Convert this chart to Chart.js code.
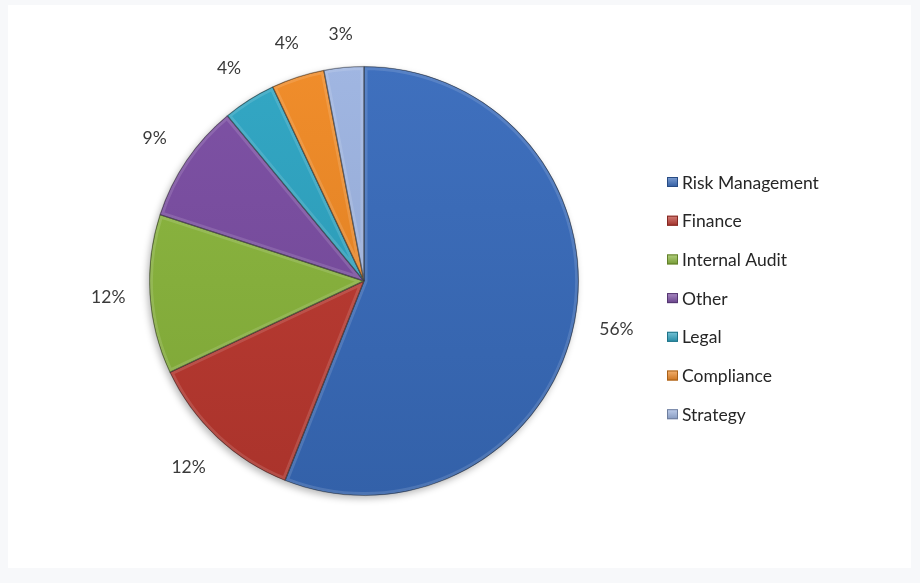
<!DOCTYPE html>
<html>
<head>
<meta charset="utf-8">
<title>Respondents by function</title>
<script src="https://cdn.jsdelivr.net/npm/chart.js@4.4.1/dist/chart.umd.min.js"></script>
<style>
    html, body { margin: 0; padding: 0; background: #f7f8fa; }
    .wrap { position: relative; width: 920px; height: 583px; }
    .panel { position: absolute; left: 8px; top: 5px; width: 903px; height: 563px; background: #ffffff; }
    #chart { position: absolute; left: 0; top: 0; }
</style>
</head>
<body>
<div class="wrap">
    <div class="panel"></div>
    <canvas id="chart" width="920" height="583"></canvas>
</div>
<script>
const categories = ['Risk Management', 'Finance', 'Internal Audit', 'Other', 'Legal', 'Compliance', 'Strategy'];
const shares = [56, 12, 12, 9, 4, 4, 3];
const sliceColors = ['#396cbc', '#bd3930', '#8ab63c', '#7a4da2', '#2da4c2', '#f08924', '#9db4e1'];

const FONT = 'Lato, "Open Sans", sans-serif';

// lighten (amt > 0) or darken (amt < 0) a hex colour
function shade(hex, amt) {
    const n = parseInt(hex.slice(1), 16);
    let r = (n >> 16) & 255, g = (n >> 8) & 255, b = n & 255;
    const f = c => Math.round(amt > 0 ? c + (255 - c) * amt : c * (1 + amt));
    return `rgb(${f(r)}, ${f(g)}, ${f(b)})`;
}

// soft shadow under the whole pie
const pieShadow = {
    id: 'pieShadow',
    beforeDatasetsDraw(chart) {
        const arc = chart.getDatasetMeta(0).data[0];
        if (!arc) return;
        const ctx = chart.ctx;
        ctx.save();
        ctx.shadowColor = 'rgba(0, 0, 0, 0.28)';
        ctx.shadowBlur = 7;
        ctx.shadowOffsetX = -2;
        ctx.shadowOffsetY = 3;
        ctx.fillStyle = '#ffffff';
        ctx.beginPath();
        ctx.arc(arc.x, arc.y, arc.outerRadius, 0, Math.PI * 2);
        ctx.fill();
        ctx.restore();
    }
};

// faint inner rim on each slice, like the old office bevel
const sliceBevel = {
    id: 'sliceBevel',
    afterDatasetsDraw(chart) {
        const ctx = chart.ctx;
        chart.getDatasetMeta(0).data.forEach(arc => {
            const {x, y, startAngle, endAngle, outerRadius} = arc;
            ctx.save();
            ctx.beginPath();
            ctx.moveTo(x, y);
            ctx.arc(x, y, outerRadius, startAngle, endAngle);
            ctx.closePath();
            ctx.clip();
            ctx.lineJoin = 'round';
            ctx.strokeStyle = 'rgba(255, 255, 255, 0.13)';
            ctx.lineWidth = 7;
            ctx.stroke();
            ctx.strokeStyle = 'rgba(0, 0, 0, 0.4)';
            ctx.lineWidth = 1.4;
            ctx.stroke();
            ctx.restore();
        });
    }
};

// percentage labels just outside each slice
const sliceLabels = {
    id: 'sliceLabels',
    afterDatasetsDraw(chart) {
        const ctx = chart.ctx;
        const values = chart.data.datasets[0].data;
        ctx.save();
        ctx.font = `17.5px ${FONT}`;
        ctx.fillStyle = '#3a3a3a';
        ctx.textAlign = 'center';
        ctx.textBaseline = 'middle';
        chart.getDatasetMeta(0).data.forEach((arc, i) => {
            const text = values[i] + '%';
            const mid = (arc.startAngle + arc.endAngle) / 2;
            const dx = Math.cos(mid), dy = Math.sin(mid);
            const w = ctx.measureText(text).width;
            const r = arc.outerRadius + 24 + Math.abs(dx) * w / 2 + Math.abs(dy) * 8;
            ctx.fillText(text, arc.x + dx * r, arc.y + dy * r);
        });
        ctx.restore();
    }
};

// legend column on the right
const sideLegend = {
    id: 'sideLegend',
    afterDraw(chart) {
        const ctx = chart.ctx;
        const left = 667, top = 182, step = 38.7;
        ctx.save();
        ctx.font = `17.5px ${FONT}`;
        ctx.textBaseline = 'middle';
        chart.data.labels.forEach((label, i) => {
            const cy = top + i * step;
            const g = ctx.createLinearGradient(0, cy - 5, 0, cy + 5);
            g.addColorStop(0, shade(sliceColors[i], 0.35));
            g.addColorStop(1, shade(sliceColors[i], -0.15));
            ctx.fillStyle = g;
            ctx.fillRect(left, cy - 5, 11, 10);
            ctx.strokeStyle = shade(sliceColors[i], -0.3);
            ctx.lineWidth = 1;
            ctx.strokeRect(left + 0.5, cy - 4.5, 10, 9);
            ctx.fillStyle = '#262626';
            ctx.fillText(label, left + 15, cy + 1);
        });
        ctx.restore();
    }
};

function sliceFill(context) {
    const base = sliceColors[context.dataIndex];
    const area = context.chart.chartArea;
    if (!area) return base;
    const g = context.chart.ctx.createLinearGradient(0, area.top, 0, area.bottom);
    g.addColorStop(0, shade(base, 0.03));
    g.addColorStop(1, shade(base, -0.1));
    return g;
}

new Chart(document.getElementById('chart'), {
    type: 'pie',
    data: {
        labels: categories,
        datasets: [{
            data: shares,
            backgroundColor: sliceFill,
            borderColor: 'rgba(50, 50, 50, 0.45)',
            borderWidth: 0.8
        }]
    },
    options: {
        responsive: false,
        animation: false,
        layout: { padding: { left: 149, right: 341, top: 66, bottom: 87 } },
        plugins: {
            legend: { display: false },
            tooltip: { enabled: false }
        }
    },
    plugins: [pieShadow, sliceBevel, sliceLabels, sideLegend]
});
</script>
</body>
</html>
